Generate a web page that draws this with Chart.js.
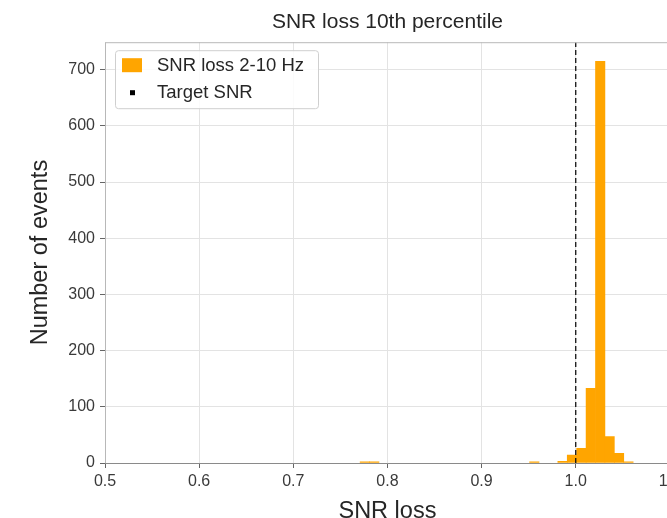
<!DOCTYPE html>
<html>
<head>
<meta charset="utf-8">
<script src="https://cdn.jsdelivr.net/npm/chart.js@4/dist/chart.umd.min.js"></script>
<style>
  html, body { margin: 0; padding: 0; background: #fff; }
  #wrap { width: 667px; height: 518px; overflow: hidden; position: relative; }
  canvas { display: block; }
</style>
</head>
<body>
<div id="wrap"><canvas id="snrChart" width="685" height="540"></canvas></div>
<script>
// histogram bins (bin centre, width 0.01) and counts
const BIN_CENTERS = [0.776, 0.786, 0.956, 0.986, 0.996, 1.006, 1.016, 1.026, 1.036, 1.046, 1.056];
const COUNTS      = [2,     2,     2,     3,     14,    26,    133,   715,   47,    17,    2];
const TARGET_SNR  = 1.0;

const X_TICKS = [0.5, 0.6, 0.7, 0.8, 0.9, 1.0, 1.1];
const Y_TICKS = [0, 100, 200, 300, 400, 500, 600, 700];
const X_RANGE = [0.5, 1.1];
const Y_RANGE = [0, 749];

const FONT = "'Liberation Sans', Arial, Helvetica, sans-serif";

(function () {
  // matplotlib-like frame around the axes
  const framePlugin = {
    id: "frame",
    afterDatasetsDraw(chart) {
      const { ctx, chartArea: a } = chart;
      ctx.save();
      ctx.strokeStyle = "#b8b8b8";
      ctx.lineWidth = 1;
      ctx.strokeRect(a.left + 0.5, a.top + 0.5, a.right - a.left, a.bottom - a.top);
      ctx.strokeStyle = "#8a8a8a";
      ctx.beginPath();
      ctx.moveTo(a.left, a.bottom + 0.5);
      ctx.lineTo(a.right, a.bottom + 0.5);
      ctx.stroke();
      ctx.restore();
    }
  };

  // legend box drawn inside the plot, top-left, on top of the grid
  const boxLegend = {
    id: "boxLegend",
    afterDraw(chart) {
      const { ctx, chartArea: a } = chart;
      const ds = chart.data.datasets;
      const x = a.left + 10, y = a.top + 8, w = 203, h = 58;
      ctx.save();
      ctx.fillStyle = "rgba(255,255,255,0.85)";
      ctx.strokeStyle = "#cfcfcf";
      ctx.lineWidth = 1;
      ctx.beginPath();
      ctx.roundRect(x + 0.5, y + 0.5, w, h, 3);
      ctx.fill();
      ctx.stroke();

      ctx.font = "18.5px " + FONT;
      ctx.textBaseline = "middle";
      // bars
      ctx.fillStyle = ds[0].backgroundColor;
      ctx.fillRect(x + 7, y + 8, 20, 14);
      ctx.fillStyle = "#262626";
      ctx.fillText(ds[0].label, x + 42, y + 16);
      // target line marker
      ctx.fillStyle = "#000";
      ctx.fillRect(x + 15, y + 40, 5, 5);
      ctx.fillStyle = "#262626";
      ctx.fillText(ds[1].label, x + 42, y + 43);
      ctx.restore();
    }
  };

  const ctx = document.getElementById("snrChart");

  new Chart(ctx, {
    type: "bar",
    data: {
      datasets: [
        {
          type: "bar",
          label: "SNR loss 2-10 Hz",
          data: BIN_CENTERS.map((c, i) => ({ x: c, y: COUNTS[i] })),
          backgroundColor: "#FFA500",
          borderWidth: 0,
          barPercentage: 1,
          categoryPercentage: 1,
          order: 2
        },
        {
          type: "line",
          label: "Target SNR",
          data: [{ x: TARGET_SNR, y: Y_RANGE[0] }, { x: TARGET_SNR, y: Y_RANGE[1] }],
          borderColor: "#111",
          borderWidth: 1.3,
          borderDash: [5, 3],
          pointRadius: 0,
          fill: false,
          order: 1
        }
      ]
    },
    options: {
      responsive: false,
      animation: false,
      devicePixelRatio: 1,
      layout: { padding: { left: 0, right: 10.5, top: 0, bottom: 0 } },
      plugins: {
        legend: { display: false },
        tooltip: { enabled: false },
        title: {
          display: true,
          fullSize: false,
          text: "SNR loss 10th percentile",
          color: "#262626",
          font: { family: FONT, size: 21, weight: "normal" },
          padding: { top: 10, bottom: 7 }
        }
      },
      scales: {
        x: {
          type: "linear",
          min: X_RANGE[0],
          max: X_RANGE[1],
          offset: false,
          afterBuildTicks: s => { s.ticks = X_TICKS.map(v => ({ value: v })); },
          afterFit: s => { s.height = 77; },
          grid: { offset: false, color: "#e3e3e3", tickColor: "#666", tickLength: 5 },
          border: { display: false },
          ticks: {
            color: "#3a3a3a",
            padding: 4,
            maxRotation: 0,
            font: { family: FONT, size: 16 },
            callback: v => v.toFixed(1)
          },
          title: {
            display: true,
            text: "SNR loss",
            color: "#262626",
            font: { family: FONT, size: 23.5 },
            padding: { top: 0, bottom: 14 }
          }
        },
        y: {
          min: Y_RANGE[0],
          max: Y_RANGE[1],
          afterBuildTicks: s => { s.ticks = Y_TICKS.map(v => ({ value: v })); },
          afterFit: s => { s.width = 105; },
          grid: { color: "#e3e3e3", tickColor: "#666", tickLength: 5 },
          border: { display: false },
          ticks: {
            color: "#3a3a3a",
            padding: 5,
            font: { family: FONT, size: 16 }
          },
          title: {
            display: true,
            text: "Number of events",
            color: "#262626",
            font: { family: FONT, size: 23.5 },
            padding: { top: 26, bottom: 0 }
          }
        }
      }
    },
    plugins: [framePlugin, boxLegend]
  });
})();
</script>
</body>
</html>
